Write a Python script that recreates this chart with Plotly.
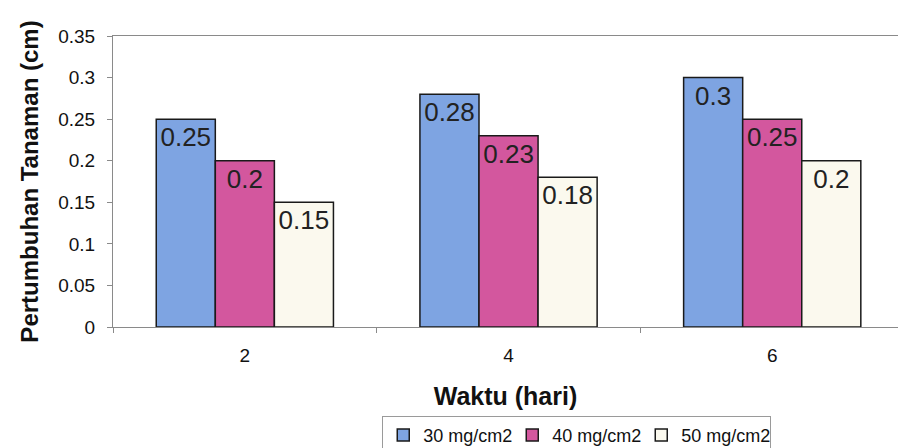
import plotly.graph_objects as go

# Plant growth by day for three dosage levels
days = ["2", "4", "6"]
series_names = ["30 mg/cm2", "40 mg/cm2", "50 mg/cm2"]
growth_30 = [0.25, 0.28, 0.30]
growth_40 = [0.20, 0.23, 0.25]
growth_50 = [0.15, 0.18, 0.20]
y_ticks = [0, 0.05, 0.1, 0.15, 0.2, 0.25, 0.3, 0.35]

fill_colors = ["#7EA4E2", "#D3579E", "#FBF9EE"]
font_family = "Liberation Sans, Arial, sans-serif"

fig = go.Figure()
for name, values, color in zip(series_names, [growth_30, growth_40, growth_50], fill_colors):
    fig.add_trace(go.Bar(
        x=days,
        y=values,
        name=name,
        marker=dict(color=color, line=dict(color="#1a1a1a", width=1.5)),
        text=[f"{v:g}" for v in values],
        textposition="inside",
        insidetextanchor="end",
        constraintext="none",
        textangle=0,
        textfont=dict(family=font_family, size=26, color="#222222"),
    ))

fig.update_layout(
    width=898,
    height=448,
    margin=dict(l=113, r=0, t=36, b=121),
    paper_bgcolor="white",
    plot_bgcolor="white",
    barmode="group",
    bargap=0.328,
    bargroupgap=0,
    font=dict(family=font_family, color="#111111"),
    showlegend=True,
    legend=dict(
        orientation="h",
        x=0.343, xanchor="left",
        yref="container",
        y=0.072, yanchor="top",
        bordercolor="#9a9a9a",
        borderwidth=1,
        bgcolor="white",
        font=dict(family=font_family, size=18, color="#111111"),
        itemwidth=30,
        entrywidth=84,
        entrywidthmode="pixels",
        tracegroupgap=0,
        traceorder="normal",
    ),
    xaxis=dict(
        type="category",
        range=[-0.5, 2.477],
        showline=True,
        linecolor="#8a8a8a",
        linewidth=1,
        mirror=True,
        ticks="outside",
        tickson="boundaries",
        ticklen=5,
        tickcolor="#8a8a8a",
        ticklabelstandoff=11,
        tickfont=dict(family=font_family, size=19, color="#111111"),
        showgrid=False,
        title=dict(
            text="<b>Waktu (hari)</b>",
            font=dict(family=font_family, size=25, color="#111111"),
            standoff=22,
        ),
    ),
    yaxis=dict(
        range=[0, 0.35],
        tickvals=y_ticks,
        showline=True,
        linecolor="#8a8a8a",
        linewidth=1,
        ticks="outside",
        ticklen=5,
        tickcolor="#8a8a8a",
        ticklabelstandoff=8,
        tickfont=dict(family=font_family, size=19, color="#111111"),
        showgrid=False,
        zeroline=False,
        title=dict(
            text="<b>Pertumbuhan Tanaman (cm)</b>",
            font=dict(family=font_family, size=24, color="#111111"),
            standoff=12,
        ),
    ),
)

fig.write_html("out.html")
